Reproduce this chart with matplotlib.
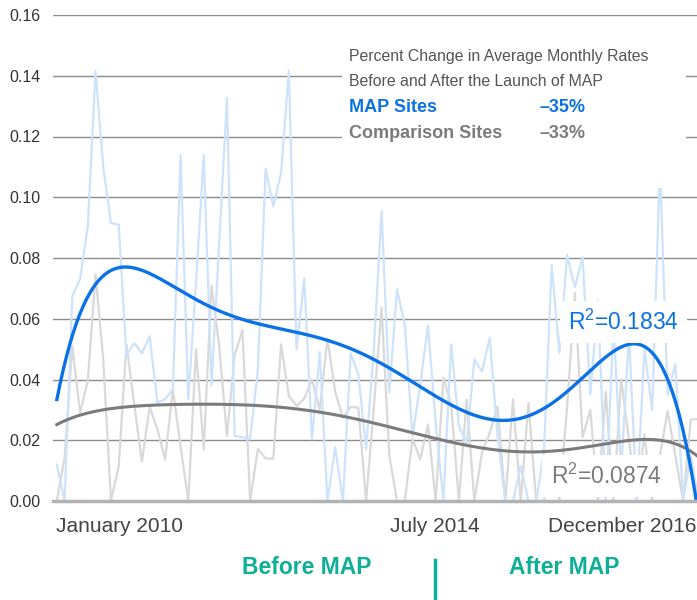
import numpy as np
import matplotlib
matplotlib.use("Agg")
import matplotlib.pyplot as plt

plt.rcParams['font.family'] = ['Liberation Sans', 'DejaVu Sans']

# Monthly rates, starting January 2010
map_sites = [0.012, 0.0, 0.0675, 0.073, 0.0905, 0.1415, 0.110, 0.0915, 0.091, 0.048,
             0.052, 0.0486, 0.0543, 0.0324, 0.0335, 0.0368, 0.114, 0.0335, 0.072, 0.114,
             0.038, 0.085, 0.1328, 0.0214, 0.021, 0.0203, 0.0433, 0.1094, 0.097, 0.108,
             0.1417, 0.050, 0.0733, 0.0203, 0.049, 0.0, 0.0176, 0.0, 0.0486, 0.0417,
             0.017, 0.05, 0.0955, 0.0357, 0.0697, 0.058, 0.0214, 0.0384, 0.0578, 0.0258,
             0.0, 0.0516, 0.0247, 0.019, 0.0466, 0.0427, 0.0537, 0.0214, 0.0, 0.0,
             0.0115, 0.0, 0.0, 0.016, 0.0778, 0.0488, 0.081, 0.0703, 0.0803, 0.035,
             0.066, 0.0, 0.058, 0.01, 0.055, 0.0, 0.05, 0.03, 0.1107, 0.035,
             0.045, 0.0, 0.015, 0.0]
comparison_sites = [0.0, 0.0143, 0.051, 0.029, 0.0395, 0.0746, 0.0466, 0.0, 0.0115, 0.0515,
                    0.032, 0.013, 0.031, 0.0236, 0.0137, 0.0368, 0.018, 0.0, 0.050, 0.017,
                    0.0708, 0.051, 0.0214, 0.048, 0.0563, 0.0, 0.0172, 0.014, 0.014, 0.0516,
                    0.0346, 0.0313, 0.0337, 0.040, 0.030, 0.0534, 0.036, 0.0274, 0.031, 0.0307,
                    0.0, 0.031, 0.0636, 0.015, 0.0, 0.0, 0.0205, 0.0137, 0.0252, 0.0,
                    0.0406, 0.0318, 0.0, 0.0335, 0.0, 0.016, 0.0225, 0.031, 0.0, 0.0334,
                    0.0, 0.0323, 0.0, 0.0, 0.015, 0.0, 0.031, 0.0685, 0.021, 0.030,
                    0.0, 0.036, 0.0, 0.040, 0.020, 0.0, 0.022, 0.0, 0.015, 0.0296,
                    0.015, 0.0, 0.0268, 0.027]
x_labels = ["January 2010", "July 2014", "December 2016"]
y_ticks = [0.00, 0.02, 0.04, 0.06, 0.08, 0.10, 0.12, 0.14, 0.16]
legend_title = ["Percent Change in Average Monthly Rates", "Before and After the Launch of MAP"]
legend_rows = [("MAP Sites", "\u201335%"), ("Comparison Sites", "\u201333%")]
r2_labels = ["0.1834", "0.0874"]
period_labels = ["Before MAP", "After MAP"]

BLUE = '#0a72e6'
LBLUE = '#cde3fb'
GRAY = '#7b7b7b'
LGRAY = '#d9d9d9'
TEAL = '#0db096'

months = np.arange(len(map_sites))

fig = plt.figure(figsize=(6.97, 6.0), dpi=100)
ax = fig.add_axes([53/697, 1 - 501/600, 1 - 53/697, (501 - 15)/600])

ax.plot(months, comparison_sites, color=LGRAY, lw=1.6, zorder=2)
ax.plot(months, map_sites, color=LBLUE, lw=1.6, zorder=2)

xs = np.linspace(0, months[-1], 400)
pb = np.polyfit(months, map_sites, 6)
pg = np.polyfit(months, comparison_sites, 6)
ax.plot(xs, np.polyval(pg, xs), color=GRAY, lw=2.2, zorder=4)
ax.plot(xs, np.polyval(pb, xs), color=BLUE, lw=2.4, zorder=5)

ax.set_xlim(-0.5, 82.8)
ax.set_ylim(0, 0.16)
ax.set_yticks(y_ticks)
ax.set_yticklabels([f"{v:.2f}" for v in y_ticks], fontsize=11.5, color='#333333')
ax.tick_params(axis='y', length=0, pad=9)
ax.set_xticks([])
for y in y_ticks[1:]:
    ax.axhline(y, color='#8c8c8c', lw=1.0, zorder=1)
ax.axhline(0, color='#b3b3b3', lw=2.5, zorder=6, clip_on=False)
for s in ax.spines.values():
    s.set_visible(False)

# legend box
fig.patches.append(plt.Rectangle((342/697, 1 - 188/600), (686 - 342)/697, (188 - 22)/600,
                                 transform=fig.transFigure, facecolor='white',
                                 edgecolor='none', zorder=7))
ax.set_zorder(1)
fig.text(349/697, 1 - 57/600, legend_title[0], fontsize=11.4, color='#555555', va='center', zorder=8)
fig.text(349/697, 1 - 81/600, legend_title[1], fontsize=11.4, color='#555555', va='center', zorder=8)
for (name, val), col, yy in zip(legend_rows, [BLUE, GRAY], [107, 133]):
    fig.text(349/697, 1 - yy/600, name, fontsize=13, fontweight='bold', color=col, va='center', zorder=8)
    fig.text(540/697, 1 - yy/600, val, fontsize=13, fontweight='bold', color=col, va='center', zorder=8)

# R^2 labels
ax.text(0.972, (501 - 322)/486, r"R$^{\mathregular{2}}$=" + r2_labels[0], transform=ax.transAxes,
        fontsize=16.5, color=BLUE, ha='right', va='center', zorder=9,
        bbox=dict(facecolor='white', edgecolor='none', pad=6))
ax.text(0.945, (501 - 476)/486, r"R$^{\mathregular{2}}$=" + r2_labels[1], transform=ax.transAxes,
        fontsize=16.5, color=GRAY, ha='right', va='center', zorder=9,
        bbox=dict(facecolor='white', edgecolor='none', pad=6))

# x labels
fig.text(56/697, 1 - 527/600, x_labels[0], fontsize=15, color='#444444', ha='left', va='center')
fig.text(480/697, 1 - 527/600, x_labels[1], fontsize=15, color='#444444', ha='right', va='center')
fig.text(696/697, 1 - 527/600, x_labels[2], fontsize=15, color='#444444', ha='right', va='center')

# period labels
fig.text(307/697, 1 - 567/600, period_labels[0], fontsize=16.5, fontweight='bold', color=TEAL,
         ha='center', va='center')
fig.text(564/697, 1 - 567/600, period_labels[1], fontsize=16.5, fontweight='bold', color=TEAL,
         ha='center', va='center')
fig.add_artist(plt.Line2D([435/697, 435/697], [0, 1 - 560/600], transform=fig.transFigure,
                          color=TEAL, lw=2.5))

fig.savefig('out.png', dpi=100)
